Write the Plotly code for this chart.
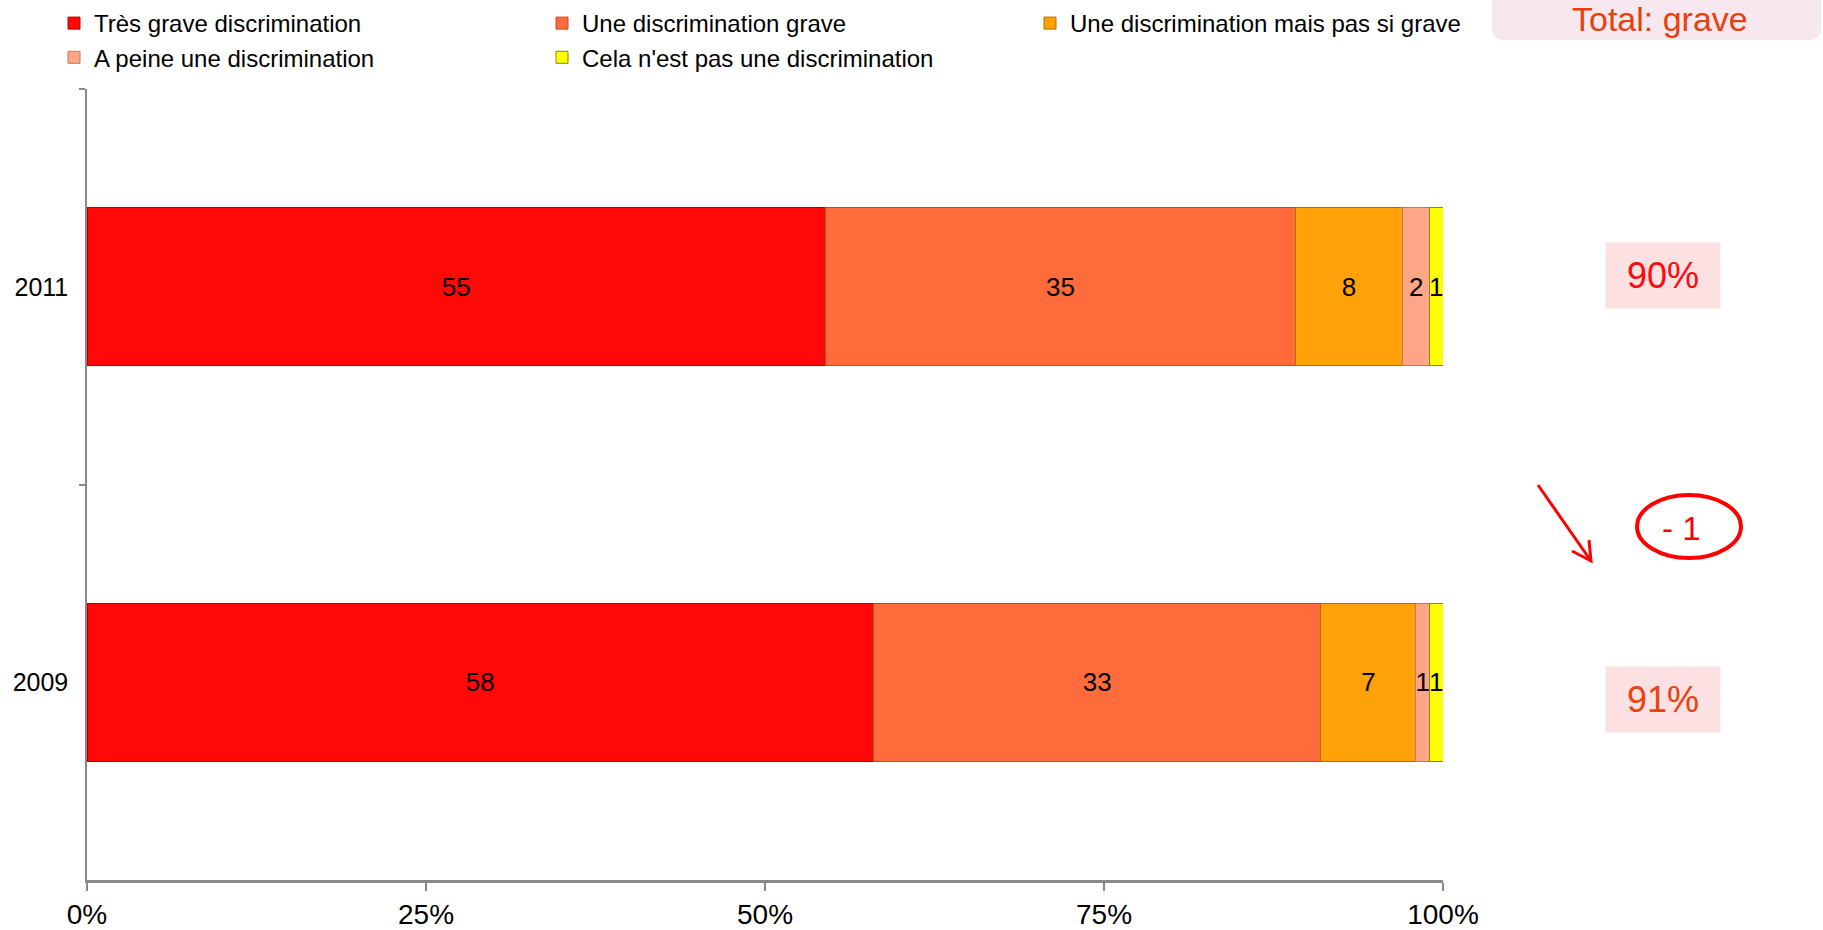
import plotly.graph_objects as go

# ---------------- data ----------------
years = ["2011", "2009"]
series_names = [
    "Très grave discrimination",
    "Une discrimination grave",
    "Une discrimination mais pas si grave",
    "A peine une discrimination",
    "Cela n'est pas une discrimination",
]
tres_grave = [55, 58]
grave = [35, 33]
pas_si_grave = [8, 7]
a_peine = [2, 1]
pas_discrimination = [1, 1]
x_tick_vals = [0, 25, 50, 75, 100]
x_tick_text = ["0%", "25%", "50%", "75%", "100%"]
total_title = "Total: grave"
total_grave = ["90%", "91%"]
evolution = "- 1"

series_values = [tres_grave, grave, pas_si_grave, a_peine, pas_discrimination]
colors = ["#FF0808", "#FF6B3B", "#FFA108", "#FFA688", "#FFFF00"]
edge_colors = ["#B00000", "#C04A20", "#B07000", "#C07860", "#8A8A00"]

FONT = "Liberation Sans, Arial, sans-serif"

# ---------------- layout geometry (pixels) ----------------
W, H = 1823, 930
L, R, T, B = 87, 1443, 89, 880


def px(x):
    return (x - L) / (R - L)


def py(y):
    return (B - y) / (B - T)


fig = go.Figure()
for name, vals, col, ecol in zip(series_names, series_values, colors, edge_colors):
    fig.add_trace(go.Bar(
        y=years,
        x=vals,
        name=name,
        orientation="h",
        marker=dict(color=col, line=dict(color=ecol, width=1)),
        text=[str(v) for v in vals],
        textposition="inside",
        insidetextanchor="middle",
        constraintext="none",
        textangle=0,
        textfont=dict(family=FONT, size=26, color="black"),
    ))

shapes = []
# "Total: grave" rounded box
x0, x1, y0, y1, r = 1492, 1821, -30, 40, 12
path = (f"M {px(x0)} {py(y0)} L {px(x0)} {py(y1 - r)} Q {px(x0)} {py(y1)} {px(x0 + r)} {py(y1)} "
        f"L {px(x1 - r)} {py(y1)} Q {px(x1)} {py(y1)} {px(x1)} {py(y1 - r)} L {px(x1)} {py(y0)} Z")
shapes.append(dict(type="path", xref="paper", yref="paper", path=path,
                   fillcolor="#F6E8EE", line=dict(width=0), layer="below"))
# ellipse around evolution
shapes.append(dict(type="circle", xref="paper", yref="paper",
                   x0=px(1637), x1=px(1741), y0=py(495), y1=py(558),
                   line=dict(color="#FF0000", width=4)))
# arrow
tail, tip, arm1, arm2 = (1538, 485), (1591, 561), (1572, 551), (1589, 540)
apath = (f"M {px(tail[0])} {py(tail[1])} L {px(tip[0])} {py(tip[1])} "
         f"M {px(arm1[0])} {py(arm1[1])} L {px(tip[0])} {py(tip[1])} L {px(arm2[0])} {py(arm2[1])}")
shapes.append(dict(type="path", xref="paper", yref="paper", path=apath,
                   line=dict(color="#FF0000", width=3)))

annotations = [
    dict(text=total_title, xref="paper", yref="paper", x=px(1660), y=py(19),
         xanchor="center", yanchor="middle", showarrow=False,
         font=dict(family=FONT, size=34, color="#E8400C")),
    dict(text=total_grave[0], xref="paper", yref="paper", x=px(1663), y=py(275.5),
         xanchor="center", yanchor="middle", showarrow=False, width=112, height=63,
         bgcolor="#FDE0E2", borderpad=1,
         font=dict(family=FONT, size=36, color="#FF0A0A")),
    dict(text=total_grave[1], xref="paper", yref="paper", x=px(1663), y=py(699.5),
         xanchor="center", yanchor="middle", showarrow=False, width=112, height=63,
         bgcolor="#FDE0E2", borderpad=1,
         font=dict(family=FONT, size=36, color="#E8420E")),
    dict(text=evolution, xref="paper", yref="paper", x=px(1681), y=py(528),
         xanchor="center", yanchor="middle", showarrow=False,
         font=dict(family=FONT, size=33, color="#FF0000")),
]

fig.update_layout(
    width=W, height=H,
    barmode="stack",
    barnorm="percent",
    bargap=0.6,
    plot_bgcolor="white",
    paper_bgcolor="white",
    margin=dict(l=L, r=W - R, t=T, b=H - B, autoexpand=False),
    font=dict(family=FONT, color="black"),
    showlegend=True,
    legend=dict(
        orientation="h",
        xanchor="right", x=px(1518),
        yanchor="top", y=py(1),
        entrywidth=443, entrywidthmode="pixels",
        font=dict(family=FONT, size=24, color="black"),
        bgcolor="rgba(0,0,0,0)",
        traceorder="normal",
    ),
    xaxis=dict(
        range=[0, 100],
        tickvals=x_tick_vals,
        ticktext=x_tick_text,
        showgrid=False, zeroline=False,
        showline=True, linecolor="#898989", linewidth=2.5,
        ticks="outside", ticklen=8, tickwidth=1.5, tickcolor="#898989",
        tickfont=dict(family=FONT, size=28, color="black"),
        ticklabelstandoff=0,
        fixedrange=True,
    ),
    yaxis=dict(
        categoryorder="array", categoryarray=years,
        autorange="reversed",
        showgrid=False, zeroline=False,
        showline=True, linecolor="#898989", linewidth=1.5,
        ticks="outside", ticklen=6, tickwidth=1.5, tickcolor="#898989",
        tickson="boundaries",
        tickfont=dict(family=FONT, size=25, color="black"),
        ticklabelstandoff=12,
        fixedrange=True,
    ),
    shapes=shapes,
    annotations=annotations,
)

fig.write_html(
    "out.html",
    config={"displayModeBar": False},
    post_script="document.body.style.margin='0px';document.body.style.overflow='hidden';",
)
